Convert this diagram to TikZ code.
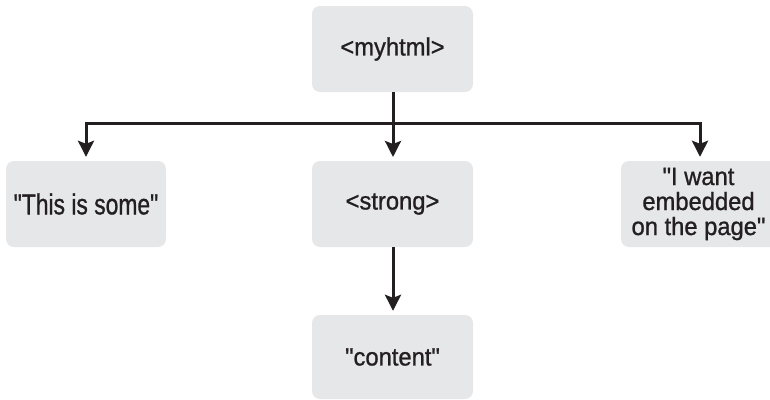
\documentclass[tikz,border=0pt]{standalone}
\usepackage{fontspec}
\newfontfamily\lab{Liberation Sans}[FakeStretch=0.95,FakeBold=1]
\usetikzlibrary{arrows.meta}
\definecolor{boxgray}{HTML}{E6E7E8}
\definecolor{ink}{HTML}{231F20}
\begin{document}
\begin{tikzpicture}[x=1pt,y=-1pt,
  box/.style={fill=boxgray,rounded corners=8pt,inner sep=0pt,
    minimum width=161pt,minimum height=86pt,text=ink,
    font=\lab\fontsize{25}{25}\selectfont,align=center},
  conn/.style={draw=ink,line width=3pt,line join=miter},
  arr/.style={conn,-{Stealth[length=16pt,width=16pt,inset=3pt]},shorten >=4pt}]
\useasboundingbox (0,0) rectangle (770,399);
\node[box] (myhtml) at (392.5,49) {<myhtml>};
\node[box,minimum width=160pt] (this) at (86,204)
  {\fontsize{29}{29}\selectfont\scalebox{0.83}[1]{"This is some"}};
\node[box] (strong) at (392.5,204) {<strong>};
\node[box,minimum width=158pt] (right) at (700,204)
  {\hspace*{-3pt}\fontsize{25}{24.5}\selectfont"I want\\\hspace*{-3pt}embedded\\\hspace*{-3pt}on the page"};
\node[box,minimum height=84pt] (content) at (392.5,357) {"content"};
\coordinate (j) at (393,123);
\draw[conn] (393,92) -- (j);
\draw[arr] (j) -- (393,161);
\draw[arr] (j) -| (this.north);
\draw[arr] (j) -| (right.north);
\draw[arr] (393,247) -- (content.north -| 393,0);
\end{tikzpicture}
\end{document}
